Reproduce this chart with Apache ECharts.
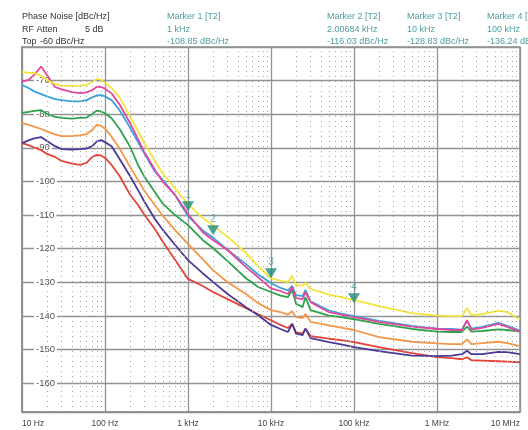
<!DOCTYPE html>
<html><head><meta charset="utf-8">
<script src="https://cdn.jsdelivr.net/npm/echarts@6/dist/echarts.min.js"></script>
<style>html,body{margin:0;padding:0;background:#fff}#c{width:528px;height:430px}</style>
</head><body><div id="c"></div>
<script>
// Offset frequencies (Hz)
const freqs = [10,12,14,17,20,25,30,40,50,60,70,80,90,100,120,150,200,250,300,400,500,700,1000,1500,2000,3000,5000,7000,10000,13000,16000,18000,20000,24000,26000,30000,50000,70000,100000,200000,500000,1000000,1500000,2000000,2300000,2600000,3500000,5500000,7000000,10000000];

// Phase noise traces (dBc/Hz)
const traceYellow = [-67.4,-67.7,-67.7,-68.6,-69.8,-71.0,-71.5,-71.6,-71.5,-71.3,-70.4,-69.5,-69.7,-70.7,-72.2,-75.0,-80.7,-85.0,-88.7,-93.9,-97.8,-102.1,-106.7,-110.9,-113.0,-116.5,-121.3,-125.2,-128.8,-129.6,-129.9,-128.1,-130.8,-131.1,-130.2,-132.0,-133.7,-134.4,-135.3,-137.1,-139.2,-139.9,-140.1,-140.1,-137.7,-139.8,-139.5,-138.5,-138.9,-141.0];
const traceMagenta = [-70.3,-69.8,-68.3,-65.8,-68.3,-71.9,-72.6,-73.4,-73.7,-73.5,-72.8,-71.8,-71.9,-72.4,-73.8,-77.1,-82.6,-87.4,-91.4,-96.6,-100.2,-104.0,-109.7,-115.1,-117.4,-120.4,-125.5,-128.5,-131.8,-132.6,-133.5,-131.4,-134.7,-135.0,-132.9,-135.9,-138.9,-139.6,-140.4,-141.8,-143.2,-143.9,-144.2,-144.2,-141.3,-144.1,-143.6,-142.4,-143.3,-144.7];
const traceBlue = [-71.3,-72.2,-73.2,-74.0,-74.7,-75.5,-75.8,-76.2,-76.2,-75.8,-75.0,-74.4,-74.3,-74.7,-75.8,-78.8,-84.0,-88.3,-91.8,-97.1,-99.6,-104.2,-110.3,-114.5,-116.7,-120.4,-124.6,-127.7,-130.2,-131.7,-132.4,-131.1,-133.8,-134.1,-132.3,-135.7,-138.4,-139.3,-140.1,-141.5,-143.0,-143.8,-143.9,-144.1,-141.5,-143.8,-143.3,-142.1,-143.0,-144.4];
const traceGreen = [-79.6,-79.3,-79.0,-78.8,-79.9,-80.8,-81.1,-81.3,-81.1,-81.0,-79.9,-78.9,-79.2,-79.7,-81.2,-84.4,-89.6,-95.1,-98.7,-103.2,-106.7,-110.0,-113.0,-117.4,-119.8,-123.7,-128.8,-131.4,-132.9,-134.0,-134.4,-132.3,-136.4,-137.4,-134.4,-138.3,-139.9,-140.4,-141.0,-142.4,-143.9,-144.7,-144.8,-144.8,-143.2,-144.7,-144.5,-144.0,-144.2,-144.7];
const traceOrange = [-82.6,-83.2,-83.7,-84.4,-85.1,-86.0,-86.5,-86.5,-86.3,-85.9,-84.7,-83.1,-83.5,-84.3,-86.7,-90.2,-95.6,-99.6,-102.9,-107.1,-110.3,-114.5,-118.6,-123.1,-126.4,-130.0,-133.5,-136.2,-138.3,-138.9,-139.6,-138.6,-140.4,-140.7,-139.4,-141.8,-142.8,-143.5,-144.2,-146.3,-147.7,-148.2,-148.4,-148.4,-147.0,-148.4,-148.1,-147.7,-148.1,-149.0];
const tracePurple = [-88.6,-87.8,-87.2,-86.8,-88.0,-89.5,-90.4,-90.5,-90.4,-90.2,-89.5,-88.1,-87.7,-88.3,-89.5,-93.3,-98.4,-102.6,-106.1,-111.2,-114.5,-118.9,-123.4,-127.3,-129.9,-133.5,-137.4,-139.8,-142.7,-143.9,-144.8,-142.4,-145.3,-145.7,-143.8,-146.6,-147.8,-148.5,-149.3,-150.5,-151.8,-152.0,-151.8,-151.4,-150.4,-151.4,-151.4,-150.7,-150.8,-151.4];
const traceRed = [-88.6,-89.2,-89.9,-90.7,-91.8,-92.7,-93.9,-94.7,-95.1,-94.5,-92.7,-92.1,-92.3,-93.0,-95.1,-98.4,-103.9,-107.0,-110.0,-114.2,-118.0,-123.4,-129.0,-131.1,-132.9,-135.0,-137.7,-139.5,-141.3,-142.7,-143.6,-142.4,-144.8,-145.3,-143.8,-146.0,-146.8,-147.2,-147.8,-149.3,-151.1,-152.3,-152.6,-152.9,-152.3,-153.2,-153.3,-153.5,-153.6,-153.8];

// Markers
const markerNames = ['1','2','3','4'];
const markerFreqs = [1000, 2006.84, 10000, 100000];
const markerLevels = [-108.85, -116.03, -128.83, -136.24];
const markerFreqText = ['1 kHz','2.00684 kHz','10 kHz','100 kHz'];
const markerLevelText = ['-108.85 dBc/Hz','-116.03 dBc/Hz','-128.83 dBc/Hz','-136.24 dBc/Hz'];

// Axis tick labels
const xTickValues = [10,100,1000,10000,100000,1000000,10000000];
const xTickLabels = ['10 Hz','100 Hz','1 kHz','10 kHz','100 kHz','1 MHz','10 MHz'];
const minorMultipliers = [2,3,4,5,6,7,8,9];

const minorFreqs = [];
xTickValues.slice(0, -1).forEach(d => minorMultipliers.forEach(m => minorFreqs.push(d * m)));

const traces = [
  {data: traceRed, color: '#e2443a'},
  {data: tracePurple, color: '#4b3996'},
  {data: traceOrange, color: '#f39848'},
  {data: traceGreen, color: '#2fa24c'},
  {data: traceBlue, color: '#3aa3da'},
  {data: traceMagenta, color: '#e2479f'},
  {data: traceYellow, color: '#f3e53a'}
];

const FONT = '"Liberation Sans", Arial, sans-serif';
const teal = '#4f9d9d';
const graphics = [];
function txt(t, x, y, color) {
  graphics.push({type:'text', x:x, y:y, silent:true,
    style:{text:t, fill:color, font:'9px ' + FONT, textVerticalAlign:'top', verticalAlign:'top'}});
}
txt('Phase Noise [dBc/Hz]', 22, 12, '#333');
txt('RF Atten', 22, 25, '#333');
txt('5 dB', 85, 25, '#333');
txt('Top', 22, 37, '#333');
txt('-60 dBc/Hz', 40, 37, '#333');
const markerColX = [167, 327, 407, 487];
markerNames.forEach((n, i) => {
  txt('Marker ' + n + ' [T2]', markerColX[i], 12, teal);
  txt(markerFreqText[i], markerColX[i], 25, teal);
  txt(markerLevelText[i], markerColX[i], 37, teal);
});

const series = traces.map(t => ({
  type:'line', data: freqs.map((f, i) => [f, t.data[i]]),
  showSymbol:false, symbol:'none', lineStyle:{color:t.color, width:1.8},
  itemStyle:{color:t.color}, silent:true, z:3, animation:false
}));
series.unshift({
  type:'line', data:[], silent:true, z:1, animation:false,
  markLine:{silent:true, animation:false, symbol:['none','none'], label:{show:false},
    lineStyle:{color:'#a8a8a8', type:[1,4], width:1},
    emphasis:{disabled:true},
    data: minorFreqs.map(f => ({xAxis:f}))}
});
series.push({
  type:'scatter', z:10, silent:true, animation:false,
  data: markerFreqs.map((f, i) => ({value:[f, markerLevels[i]], name:markerNames[i]})),
  symbol:'path://M0,0 L12,0 L6,10 Z', symbolSize:[12,10], symbolOffset:[0,-5],
  itemStyle:{color:'#1f8c7b'},
  label:{show:true, position:'top', distance:1, formatter:p => p.name, color:teal, fontSize:10, fontFamily:FONT}
});

const chart = echarts.init(document.getElementById('c'), null, {renderer:'canvas'});
chart.setOption({
  backgroundColor:'#fff',
  animation:false,
  grid:{left:22, right:8, top:47, bottom:18, show:true, borderColor:'#8c8c8c', borderWidth:1.5, outerBoundsMode:'none', containLabel:false},
  xAxis:{type:'log', logBase:10, min:10, max:10000000,
    axisLine:{show:true, lineStyle:{color:'#8c8c8c', width:1.5}},
    axisTick:{show:false},
    splitLine:{show:true, lineStyle:{color:'#939393', width:1.3}},
    axisLabel:{color:'#444', fontSize:8.5, fontFamily:FONT, margin:7,
      alignMinLabel:'left', alignMaxLabel:'right',
      formatter:v => { const i = xTickValues.indexOf(Math.round(v)); return i >= 0 ? xTickLabels[i] : ''; }}
  },
  yAxis:{type:'value', min:-168.6, max:-60, minInterval:10, maxInterval:10, splitNumber:11,
    axisLine:{show:true, lineStyle:{color:'#8c8c8c', width:1.5}},
    axisTick:{show:false},
    splitLine:{show:true, lineStyle:{color:'#939393', width:1.3}},
    axisLabel:{inside:true, margin:12, color:'#555', fontSize:9.5, fontFamily:FONT,
      backgroundColor:'#fff', padding:[0,2], showMinLabel:false, showMaxLabel:false,
      formatter:v => String(Math.round(v))}
  },
  graphic:graphics,
  series:series
});
</script></body></html>
